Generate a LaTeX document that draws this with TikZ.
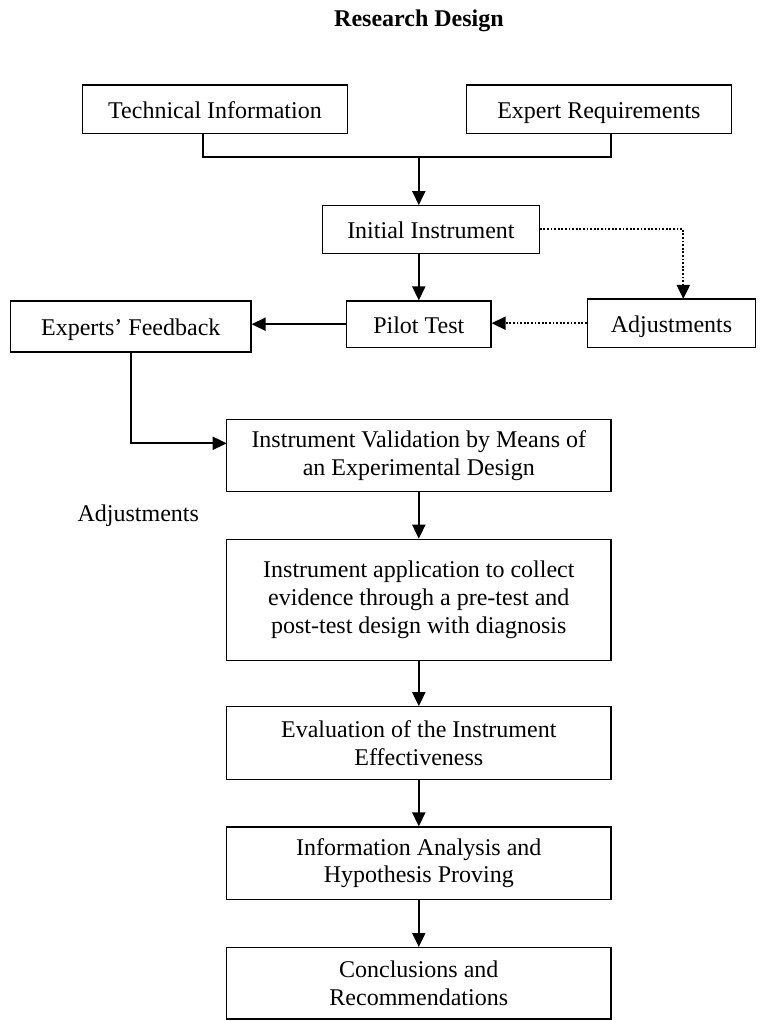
\documentclass[tikz,border=0pt]{standalone}
\usepackage{fontspec}
\setmainfont{Liberation Serif}
\usetikzlibrary{arrows.meta}

\begin{document}
\begin{tikzpicture}[
			x=0.5pt, y=-0.5pt,
			every node/.style = {font=\fontsize{12}{13.8}\selectfont, align=center, inner sep=0pt},
			stage/.style = {shape=rectangle, draw, line width=0.6pt, minimum width=192.2pt},
			small/.style = {shape=rectangle, draw, line width=0.6pt, text height=10pt, text depth=1pt},
			link/.style = {draw, line width=1pt},
			arr/.style = {link, -{Triangle[length=7pt, width=6.5pt]}},
			dotarr/.style = {draw, line width=1pt, dash pattern=on 0.9pt off 0.9pt,
				-{Triangle[length=7pt, width=6.5pt]}}
			]
			\useasboundingbox (0,0) rectangle (760,1021);
			
			% Title
			\node[font=\fontsize{12}{13.8}\selectfont\bfseries] (title) at (419,21) {Research Design};
			
			% Inputs and pilot loop
			\node[small, minimum width=132.3pt, minimum height=24.2pt] (tech) at (215,109.2) {Technical Information};
			\node[small, minimum width=132.2pt, minimum height=24.2pt] (req) at (598.9,109.2) {Expert Requirements};
			\node[small, minimum width=108.2pt, minimum height=23.8pt] (init) at (430.9,229.5) {Initial Instrument};
			\node[small, minimum width=72.2pt, minimum height=23.2pt] (pilot) at (418.8,324.2) {Pilot Test};
			\node[small, minimum width=84.2pt, minimum height=24.2pt] (adjust) at (671.5,323.2) {Adjustments};
			\node[small, minimum width=120.2pt, minimum height=25.5pt] (feedback) at (130.8,326.5) {Experts' Feedback};
			
			% Main sequence
			\node[stage, minimum height=36.2pt] (valid) at (418.8,455.5) {Instrument Validation by Means of\\an Experimental Design};
			\node (adjnote) at (138.3,516) {Adjustments};
			\node[stage, minimum height=60.4pt] (apply) at (418.8,599.7) {Instrument application to collect\\evidence through a pre-test and\\post-test design with diagnosis};
			\node[stage, minimum height=36.2pt] (eval) at (418.8,743) {Evaluation of the Instrument\\Effectiveness};
			\node[stage, minimum height=36.2pt] (analysis) at (418.8,863.2) {Information Analysis and\\Hypothesis Proving};
			\node[stage, minimum height=35.7pt] (concl) at (418.8,983.3) {Conclusions and\\Recommendations};
			
			% Turning points
			\coordinate (techdrop) at (202.7,157.3);
			\coordinate (reqdrop) at (610.7,157.3);
			\coordinate (adjin) at (683.3,299);
			\coordinate (validin) at (226.7,443.3);
			
			% Connectors
			\draw[link] (tech.south -| techdrop) -- (techdrop) -- (reqdrop) -- (req.south -| reqdrop);
			\draw[arr] (pilot.north |- techdrop) -- (pilot.north |- init.north);
			\draw[arr] (pilot.north |- init.south) -- (pilot.north);
			\draw[dotarr] (init.east) -| (adjin);
			\draw[dotarr] (adjust.west) -- (adjust.west -| pilot.east);
			\draw[arr] (pilot.west) -- (pilot.west -| feedback.east);
			\draw[arr] (feedback.south) |- (validin);
			\draw[arr] (valid.south) -- (apply.north);
			\draw[arr] (apply.south) -- (eval.north);
			\draw[arr] (eval.south) -- (analysis.north);
			\draw[arr] (analysis.south) -- (concl.north);
			
		\end{tikzpicture}
\end{document}
